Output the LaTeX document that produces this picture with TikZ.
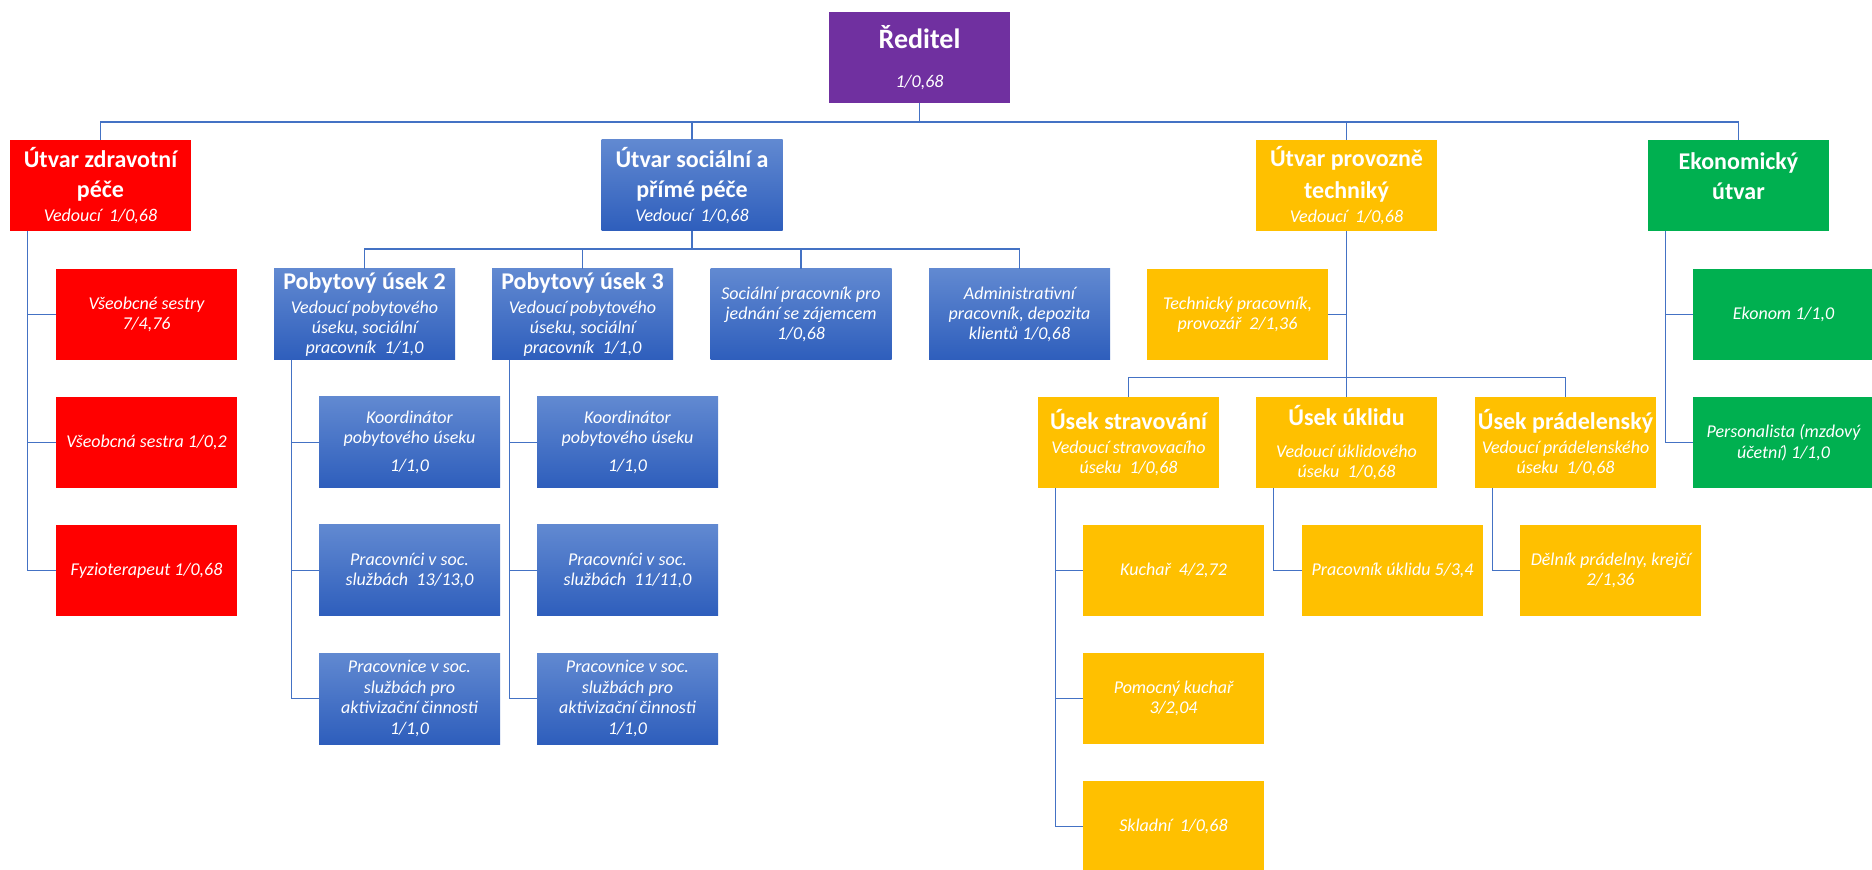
\documentclass[tikz,border=0pt]{standalone}
\usepackage{fontspec}
\setmainfont{Carlito}
\definecolor{purp}{HTML}{7030A0}
\definecolor{rd}{HTML}{FF0000}
\definecolor{gold}{HTML}{FFC000}
\definecolor{grn}{HTML}{00B050}
\definecolor{bltop}{HTML}{6189D1}
\definecolor{blbot}{HTML}{2E5EBC}
\definecolor{wire}{HTML}{4472C4}
\newcommand{\hd}{\fontsize{12}{15}\selectfont\bfseries\upshape}
\begin{document}
\begin{tikzpicture}[x=0.5pt, y=0.5pt,
    box/.style={minimum width=90.5pt, minimum height=45.5pt, inner sep=1pt, align=center,
      text=white, font=\fontsize{9}{10.2}\selectfont\itshape},
    purpbox/.style={box, fill=purp},
    redbox/.style={box, fill=rd},
    bluebox/.style={box, top color=bltop, bottom color=blbot},
    goldbox/.style={box, fill=gold},
    greenbox/.style={box, fill=grn},
    link/.style={draw=wire, line width=0.8pt}]
\useasboundingbox (0,0) rectangle (1872,-870);

% top level
\node[purpbox] (dir) at (919.5,-57.5) {\fontsize{14}{17}\selectfont\bfseries\upshape Ředitel\\[9.3pt]1/0,68};

% departments
\node[redbox] (zdrav) at (100.5,-185.5) {\hd Útvar zdravotní\\[4.8pt]\hd péče\\[1.8pt]Vedoucí~ 1/0,68};
\node[bluebox] (soc) at (692,-185.5) {\hd Útvar sociální a\\[4.8pt]\hd přímé péče\\[1.8pt]Vedoucí~ 1/0,68};
\node[goldbox] (prov) at (1346.5,-185.5) {\hd Útvar provozně\\[4.8pt]\hd techniký\\[1.8pt]Vedoucí~ 1/0,68};
\node[greenbox] (ekon) at (1738.5,-185.5) {\hd Ekonomický\\[4.8pt]\hd útvar\\[-1pt]\mbox{}};

% second row
\node[redbox] (sestry) at (146.5,-314.5) {Všeobcné sestry\\7/4,76};
\node[bluebox] (pob2) at (364.5,-314.5) {\hd Pobytový úsek 2\\[1.8pt]Vedoucí pobytového\\úseku, sociální\\pracovník~ 1/1,0};
\node[bluebox] (pob3) at (582.5,-314.5) {\hd Pobytový úsek 3\\[1.8pt]Vedoucí pobytového\\úseku, sociální\\pracovník~ 1/1,0};
\node[bluebox] (socprac) at (801,-314.5) {Sociální pracovník pro\\jednání se zájemcem\\1/0,68};
\node[bluebox] (admin) at (1019.5,-314.5) {Administrativní\\pracovník, depozita\\klientů 1/0,68};
\node[goldbox] (tech) at (1237.5,-314.5) {Technický pracovník,\\provozář~ 2/1,36};
\node[greenbox] (ekonom) at (1783.5,-314.5) {Ekonom 1/1,0};

% third row
\node[redbox] (sestra) at (146.5,-442.5) {Všeobcná sestra 1/0,2};
\node[bluebox] (koord2) at (409.5,-442.5) {Koordinátor\\pobytového úseku\\[4pt]1/1,0};
\node[bluebox] (koord3) at (627.5,-442.5) {Koordinátor\\pobytového úseku\\[4pt]1/1,0};
\node[goldbox] (strav) at (1128.5,-442.5) {\hd Úsek stravování\\[1.8pt]Vedoucí stravovacího\\úseku~ 1/0,68};
\node[goldbox] (uklid) at (1346.5,-442.5) {\hd Úsek úklidu\\[6pt]Vedoucí úklidového\\úseku~ 1/0,68};
\node[goldbox] (pradel) at (1565.5,-442.5) {\hd Úsek prádelenský\\[1.8pt]Vedoucí prádelenského\\úseku~ 1/0,68};
\node[greenbox] (personal) at (1783.5,-442.5) {Personalista (mzdový\\účetní) 1/1,0};

% fourth row
\node[redbox] (fyzio) at (146.5,-570.5) {Fyzioterapeut 1/0,68};
\node[bluebox] (prac2) at (409.5,-570.5) {Pracovníci v soc.\\službách~ 13/13,0};
\node[bluebox] (prac3) at (627.5,-570.5) {Pracovníci v soc.\\službách~ 11/11,0};
\node[goldbox] (kuchar) at (1173.5,-570.5) {Kuchař~ 4/2,72};
\node[goldbox] (uklidpr) at (1392.5,-570.5) {Pracovník úklidu 5/3,4};
\node[goldbox] (delnik) at (1610.5,-570.5) {Dělník prádelny, krejčí\\2/1,36};

% fifth and sixth row
\node[bluebox] (akt2) at (409.5,-698.5) {Pracovnice v soc.\\službách pro\\aktivizační činnosti\\1/1,0};
\node[bluebox] (akt3) at (627.5,-698.5) {Pracovnice v soc.\\službách pro\\aktivizační činnosti\\1/1,0};
\node[goldbox] (pomoc) at (1173.5,-698.5) {Pomocný kuchař\\3/2,04};
\node[goldbox] (sklad) at (1173.5,-826.5) {Skladní~ 1/0,68};

% connectors
\coordinate (topbus) at (0,-122);
\coordinate (socbus) at (0,-249);
\foreach \n in {zdrav,soc,prov,ekon}
  \draw[link] (dir.south) -- (dir.south |- topbus) -| (\n.north);
\foreach \n in {pob2,pob3,socprac,admin}
  \draw[link] (soc.south) -- (soc.south |- socbus) -| (\n.north);
\foreach \p/\c in {zdrav/sestry,zdrav/sestra,zdrav/fyzio,pob2/koord2,pob2/prac2,pob2/akt2,
    pob3/koord3,pob3/prac3,pob3/akt3,strav/kuchar,strav/pomoc,strav/sklad,
    uklid/uklidpr,pradel/delnik,ekon/ekonom,ekon/personal}
  \draw[link] ([xshift=9pt]\p.south west) |- (\c.west);
\draw[link] (prov.south) -- (uklid.north);
\draw[link] (tech.east) -- (tech.east -| prov.south);
\draw[link] (strav.north) -- ++(0,19) -| (pradel.north);
\end{tikzpicture}
\end{document}
